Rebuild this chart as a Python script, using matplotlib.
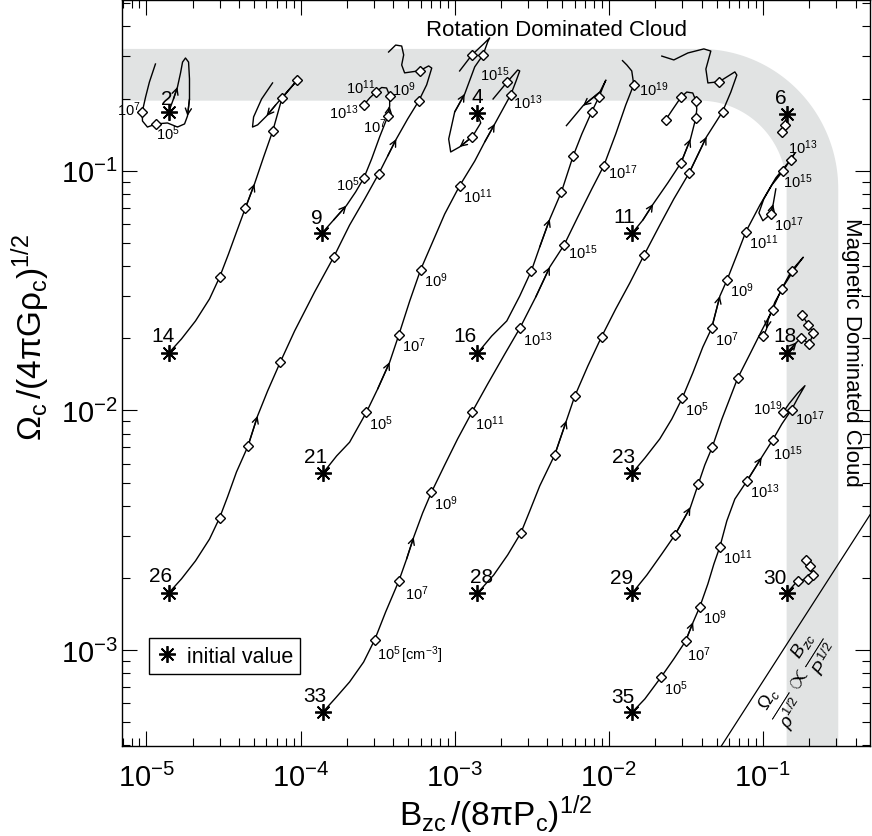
import numpy as np
import matplotlib.pyplot as plt
from matplotlib.lines import Line2D

plt.rcParams["font.family"] = ["Liberation Sans", "DejaVu Sans"]
plt.rcParams["mathtext.fontset"] = "custom"
plt.rcParams["mathtext.rm"] = "Liberation Sans"
plt.rcParams["mathtext.it"] = "Liberation Sans:italic"
plt.rcParams["mathtext.sf"] = "Liberation Sans"

# evolution tracks, log10 values
# lgB = log10 Bzc/(8 pi Pc)^1/2 , lgW = log10 Omega_c/(4 pi G rho_c)^1/2
# the first point of every track is the initial value (asterisk)
lgB_2 = [-4.857, -4.825, -4.799, -4.779, -4.766, -4.747, -4.727, -4.721, -4.721, -4.734,
         -4.753, -4.799, -4.864, -4.937, -4.994, -5.026, -5.028, -5.006, -4.981, -4.942]
lgW_2 = [-0.757, -0.701, -0.651, -0.592, -0.547, -0.530, -0.547, -0.617, -0.701, -0.772,
         -0.805, -0.818, -0.801, -0.805, -0.818, -0.793, -0.756, -0.693, -0.630, -0.555]

lgB_4 = [-2.853, -2.831, -2.885, -2.968, -3.026, -3.039, -3.000, -2.935, -2.870, -2.816,
         -2.786, -2.773, -2.812, -2.888, -2.968]
lgW_4 = [-0.761, -0.801, -0.858, -0.901, -0.922, -0.868, -0.755, -0.680, -0.567, -0.517,
         -0.463, -0.446, -0.471, -0.517, -0.584]

lgB_6 = [-0.846, -0.857, -0.879]
lgW_6 = [-0.763, -0.809, -0.837]

lgB_9 = [-3.862, -3.786, -3.703, -3.643, -3.589, -3.539, -3.487, -3.433, -3.422, -3.422,
         -3.442, -3.474, -3.508, -3.552, -3.589]
lgW_9 = [-1.261, -1.206, -1.146, -1.089, -1.030, -0.951, -0.859, -0.771, -0.730, -0.687,
         -0.655, -0.653, -0.670, -0.697, -0.725]

lgB_11 = [-1.849, -1.779, -1.712, -1.617, -1.532, -1.470, -1.435, -1.429, -1.435, -1.455,
          -1.494, -1.532, -1.584, -1.632]
lgW_11 = [-1.261, -1.206, -1.139, -1.051, -0.968, -0.868, -0.780, -0.743, -0.708, -0.676,
          -0.672, -0.694, -0.743, -0.789]

lgB_14 = [-4.857, -4.773, -4.682, -4.591, -4.526, -4.468, -4.416, -4.359, -4.299, -4.240,
          -4.180, -4.121, -4.021, -4.084, -4.162, -4.221, -4.279, -4.312, -4.305, -4.253,
          -4.182]
lgW_14 = [-1.762, -1.702, -1.627, -1.535, -1.445, -1.348, -1.256, -1.157, -1.055, -0.943,
          -0.833, -0.698, -0.622, -0.668, -0.726, -0.772, -0.809, -0.818, -0.776, -0.701,
          -0.634]

lgB_16 = [-2.853, -2.760, -2.662, -2.578, -2.502, -2.448, -2.383, -2.307, -2.232, -2.175,
          -2.112, -2.065, -2.032, -2.019, -2.058, -2.167, -2.275]
lgW_16 = [-1.762, -1.690, -1.627, -1.523, -1.417, -1.318, -1.202, -1.088, -0.940, -0.847,
          -0.756, -0.694, -0.642, -0.622, -0.672, -0.729, -0.812]

lgB_18 = [-0.846, -0.781, -0.753, -0.699, -0.672, -0.705, -0.744]
lgW_18 = [-1.762, -1.716, -1.698, -1.723, -1.677, -1.644, -1.604]

lgB_21 = [-3.855, -3.766, -3.682, -3.573, -3.500, -3.422, -3.362, -3.292, -3.221, -3.149,
          -3.065, -2.968, -2.870, -2.805, -2.740, -2.636, -2.604, -2.578, -2.591, -2.658,
          -2.751]
lgW_21 = [-2.262, -2.190, -2.133, -2.008, -1.911, -1.799, -1.684, -1.544, -1.413, -1.306,
          -1.181, -1.063, -0.960, -0.880, -0.805, -0.683, -0.630, -0.584, -0.580, -0.629,
          -0.701]

lgB_23 = [-1.849, -1.766, -1.669, -1.591, -1.524, -1.455, -1.390, -1.333, -1.279, -1.232,
          -1.169, -1.110, -1.019, -0.916, -0.820, -0.792, -0.868, -0.942, -0.994, -1.026,
          -1.000, -0.950, -0.933, -0.916]
lgW_23 = [-2.262, -2.199, -2.119, -2.036, -1.950, -1.844, -1.736, -1.658, -1.523, -1.455,
          -1.352, -1.254, -1.143, -1.030, -0.954, -0.926, -1.000, -1.060, -1.118, -1.176,
          -1.209, -1.181, -1.139, -1.076]

lgB_26 = [-4.857, -4.773, -4.682, -4.591, -4.526, -4.474, -4.416, -4.342, -4.279, -4.214,
          -4.132, -4.039, -3.909, -3.784, -3.682, -3.584, -3.494, -3.435, -3.379, -3.305,
          -3.234, -3.182, -3.149, -3.169, -3.227, -3.325, -3.344, -3.331, -3.344, -3.383,
          -3.429]
lgW_26 = [-2.763, -2.703, -2.628, -2.537, -2.449, -2.361, -2.257, -2.150, -2.023, -1.919,
          -1.799, -1.669, -1.506, -1.359, -1.227, -1.118, -1.014, -0.939, -0.868, -0.784,
          -0.710, -0.642, -0.572, -0.563, -0.583, -0.592, -0.559, -0.517, -0.480, -0.476,
          -0.505]

lgB_28 = [-2.853, -2.747, -2.656, -2.571, -2.513, -2.448, -2.351, -2.275, -2.221, -2.136,
          -2.047, -1.955, -1.864, -1.771, -1.669, -1.578, -1.479, -1.366, -1.262, -1.208,
          -1.169, -1.182, -1.284, -1.357, -1.370, -1.338, -1.383, -1.487, -1.578, -1.656]
lgW_28 = [-2.763, -2.687, -2.603, -2.512, -2.420, -2.315, -2.186, -2.043, -1.941, -1.815,
          -1.693, -1.577, -1.469, -1.352, -1.227, -1.118, -1.010, -0.859, -0.754, -0.672,
          -0.601, -0.588, -0.629, -0.634, -0.576, -0.501, -0.492, -0.509, -0.538, -0.522]

lgB_29 = [-1.849, -1.753, -1.656, -1.571, -1.470, -1.420, -1.377, -1.329, -1.266, -1.164,
          -1.084, -1.006, -0.937, -0.879, -0.814, -0.738, -0.786, -0.857, -0.922, -0.968,
          -0.976, -0.998]
lgW_29 = [-2.763, -2.687, -2.599, -2.520, -2.404, -2.309, -2.228, -2.154, -2.036, -1.866,
          -1.765, -1.665, -1.580, -1.494, -1.417, -1.361, -1.402, -1.473, -1.548, -1.627,
          -1.660, -1.691]

lgB_30 = [-0.846, -0.775, -0.706, -0.673, -0.695, -0.722]
lgW_30 = [-2.763, -2.711, -2.703, -2.687, -2.650, -2.624]

lgB_33 = [-3.857, -3.773, -3.682, -3.591, -3.519, -3.448, -3.362, -3.312, -3.266, -3.208,
          -3.151, -3.065, -2.981, -2.888, -2.786, -2.675, -2.578, -2.474, -2.383, -2.290,
          -2.201, -2.110, -2.032, -1.955, -1.890, -1.838, -1.851, -1.883, -1.911]
lgW_33 = [-3.260, -3.200, -3.133, -3.050, -2.957, -2.841, -2.711, -2.620, -2.529, -2.428,
          -2.342, -2.228, -2.119, -2.008, -1.890, -1.765, -1.658, -1.527, -1.402, -1.310,
          -1.193, -1.076, -0.979, -0.847, -0.726, -0.641, -0.584, -0.559, -0.541]

lgB_35 = [-1.849, -1.766, -1.662, -1.578, -1.502, -1.453, -1.409, -1.357, -1.318, -1.279,
          -1.234, -1.182, -1.102, -1.008, -0.937, -0.877, -0.814, -0.773, -0.727, -0.773,
          -0.831, -0.868]
lgW_35 = [-3.260, -3.204, -3.114, -3.037, -2.963, -2.884, -2.819, -2.724, -2.641, -2.569,
          -2.461, -2.370, -2.293, -2.196, -2.124, -2.057, -1.997, -1.948, -1.897, -1.927,
          -1.973, -2.008]

tracks = {2: (lgB_2, lgW_2), 4: (lgB_4, lgW_4), 6: (lgB_6, lgW_6), 9: (lgB_9, lgW_9),
          11: (lgB_11, lgW_11), 14: (lgB_14, lgW_14), 16: (lgB_16, lgW_16),
          18: (lgB_18, lgW_18), 21: (lgB_21, lgW_21), 23: (lgB_23, lgW_23),
          26: (lgB_26, lgW_26), 28: (lgB_28, lgW_28), 29: (lgB_29, lgW_29),
          30: (lgB_30, lgW_30), 33: (lgB_33, lgW_33), 35: (lgB_35, lgW_35)}

# points of each track that carry a diamond (every 2 dex in density)
diamonds = {2: [13, 16], 4: [2, 9, 13], 6: [1, 2], 9: [4, 7, 9, 12, 14],
            11: [4, 6, 8, 11, 13], 14: [4, 7, 10, 11, 12], 16: [4, 7, 8, 10, 11],
            18: [2, 3, 4, 5, 6], 21: [3, 6, 8, 11, 15, 19], 23: [4, 7, 9, 11, 14, 16, 21],
            26: [4, 7, 10, 13, 16, 20, 24], 28: [3, 6, 8, 10, 13, 16, 18, 22],
            29: [3, 5, 7, 9, 12, 13, 14, 21], 30: [1, 2, 3, 4, 5],
            33: [4, 6, 10, 13, 16, 19, 22, 25], 35: [2, 4, 6, 9, 12, 14, 16, 21]}

# points of each track where a direction arrow sits
arrows = {2: [2, 9], 4: [3, 7], 9: [2, 8], 11: [2, 5], 14: [8, 15], 16: [6, 15],
          18: [1], 21: [5, 14], 23: [8, 22], 26: [8, 18], 28: [7, 17], 29: [4, 20],
          33: [8, 18], 35: [5, 13]}

# density labels: point index -> log10 n_c [cm^-3]
dens_2 = {13: 5, 16: 7}
dens_9 = {4: 5, 7: 7, 9: 9, 12: 11, 14: 13}
dens_21 = {3: 5, 6: 7, 8: 9, 11: 11, 15: 13, 19: 15}
dens_23 = {4: 5, 7: 7, 9: 9, 11: 11, 14: 13, 16: 15, 21: 17}
dens_33 = {4: 5, 6: 7, 10: 9, 13: 11, 16: 13, 19: 15, 22: 17, 25: 19}
dens_35 = {2: 5, 4: 7, 6: 9, 9: 11, 12: 13, 14: 15, 16: 17, 21: 19}
dens_labels = {2: dens_2, 9: dens_9, 21: dens_21, 23: dens_23, 33: dens_33, 35: dens_35}

# grey bands (log10): rotation dominated (horizontal) and magnetic dominated (vertical)
rot_band = (-0.708, -0.492)
mag_band = (-0.846, -0.511)
corner = (-1.409, -1.076)

# Omega_c/rho^1/2 ~ Bzc/P^1/2 reference line: y = k x
prop_k = 0.0074

# ----------------------------------------------------------------------------
# label placement (pixels); default for density labels is lower right
num_offset = {2: (-2, 14), 4: (0, 17), 6: (-6, 16), 9: (-5, 16), 11: (-8, 17),
              14: (-6, 18), 16: (-12, 18), 18: (-2, 18), 21: (-7, 17), 23: (-9, 17),
              26: (-8, 18), 28: (4, 17), 29: (-11, 16), 30: (-12, 16), 33: (-8, 17),
              35: (-9, 16)}
label_place = {(2, 13): (0, -9, "left"), (2, 16): (-2, 3, "right"),
               (9, 4): (-4, -6, "right"), (9, 7): (-1, -10, "right"),
               (9, 9): (2, 7, "left"), (9, 12): (-1, 5, "right"), (9, 14): (-6, -7, "right"),
               (21, 15): (2, -7, "left"), (21, 19): (2, 8, "right"),
               (23, 14): (-3, 13, "left"), (23, 16): (0, -10, "left"),
               (33, 4): (2, -14, "left"), (33, 6): (6, -12, "left"),
               (33, 19): (4, -7, "left"), (33, 22): (4, -6, "left"), (33, 25): (5, -4, "left"),
               (35, 4): (1, -13, "left"), (35, 14): (0, -13, "left"),
               (35, 16): (3, -8, "left"), (35, 21): (-1, 5, "right")}

fig = plt.figure(figsize=(8.72, 8.37), dpi=100)
ax = fig.add_axes([0.1399, 0.1079, 0.8578, 0.8909])
ax.set_xscale("log")
ax.set_yscale("log")
ax.set_xlim(10 ** -5.159, 10 ** -0.305)
ax.set_ylim(10 ** -3.399, 10 ** -0.288)

# L-shaped band with rounded corner
cx, cy = corner
ro_x, ro_y = mag_band[1] - cx, rot_band[1] - cy
ri_x, ri_y = mag_band[0] - cx, rot_band[0] - cy
t_dn = np.linspace(np.pi / 2, 0, 60)
t_up = t_dn[::-1]
px = np.concatenate([[-7], cx + ro_x * np.cos(t_dn), [mag_band[1], mag_band[0]],
                     cx + ri_x * np.cos(t_up), [-7]])
py = np.concatenate([[rot_band[1]], cy + ro_y * np.sin(t_dn), [-5, -5],
                     cy + ri_y * np.sin(t_up), [rot_band[0]]])
ax.fill(10 ** px, 10 ** py, color="#e1e3e3", lw=0, zorder=0)

star = (8, 2, 0)
for n, (lb, lw_) in tracks.items():
    x = 10 ** np.array(lb)
    y = 10 ** np.array(lw_)
    ax.plot(x, y, color="k", lw=1.0, zorder=2)
    for i in arrows.get(n, []):
        ax.annotate("", xy=(x[i], y[i]), xytext=(x[i - 1], y[i - 1]),
                    arrowprops=dict(arrowstyle="->", lw=1.0, color="k",
                                    shrinkA=0, shrinkB=0, mutation_scale=11),
                    zorder=2)
    d = diamonds[n]
    ax.plot(x[d], y[d], ls="none", marker="D", ms=5, mfc="white", mec="k",
            mew=1.0, zorder=3)
    ax.plot(x[0], y[0], ls="none", marker=star, ms=12, mew=1.3, color="k", zorder=4)
    dx, dy = num_offset[n]
    ax.annotate(str(n), (x[0], y[0]), xytext=(dx, dy), textcoords="offset pixels",
                ha="center", va="center", fontsize=15, zorder=5)
    for i, e in dens_labels.get(n, {}).items():
        dx, dy, ha = label_place.get((n, i), (3, -10, "left"))
        txt = rf"$10^{{{e}}}$"
        if (n, e) == (33, 5):
            txt = r"$10^{5}\,[\mathrm{cm^{-3}}]$"
        ax.annotate(txt, (x[i], y[i]), xytext=(dx, dy), textcoords="offset pixels",
                    ha=ha, va="center", fontsize=10.5, zorder=5)

# reference line
lx = np.array(ax.get_xlim())
ax.plot(lx, prop_k * lx, color="k", lw=0.9, zorder=2)
ax.text(10 ** -0.76, 10 ** -3.121,
        r"$\frac{\Omega_c}{\rho^{1/2}}\propto\frac{B_{zc}}{P^{1/2}}$",
        rotation=57.7, ha="center", va="center", rotation_mode="anchor", fontsize=19)

ax.text(10 ** -2.340, 10 ** -0.409, "Rotation Dominated Cloud",
        ha="center", va="center", fontsize=16)
ax.text(10 ** -0.422, 10 ** -1.752, "Magnetic Dominated Cloud", rotation=270,
        ha="center", va="center", fontsize=16)

h = Line2D([], [], ls="none", marker=star, ms=12, mew=1.3, color="k")
leg = ax.legend([h], ["initial value"], loc="lower left", bbox_to_anchor=(0.036, 0.096),
                fontsize=15.5, frameon=True, fancybox=False, edgecolor="k",
                framealpha=1, borderpad=0.35, handletextpad=0.4, handlelength=1.0,
                borderaxespad=0)
leg.get_frame().set_linewidth(1.0)

ax.tick_params(which="both", direction="in", top=True, right=True, width=0.8)
ax.tick_params(which="major", length=11, labelsize=21, pad=3)
ax.tick_params(which="minor", length=6)
ax.tick_params(axis="x", which="major", pad=12)
for s in ax.spines.values():
    s.set_linewidth(1.0)

ax.set_xlabel(r"$\mathrm{B_{zc}\,/(8\pi P_c)^{1/2}}$", fontsize=24)
ax.set_ylabel(r"$\mathrm{\Omega_c\,/(4\pi G\rho_c)^{1/2}}$", fontsize=24)
ax.xaxis.set_label_coords(0.5, -0.062)
ax.yaxis.set_label_coords(-0.094, 0.549)

fig.savefig("out.png", dpi=100)
